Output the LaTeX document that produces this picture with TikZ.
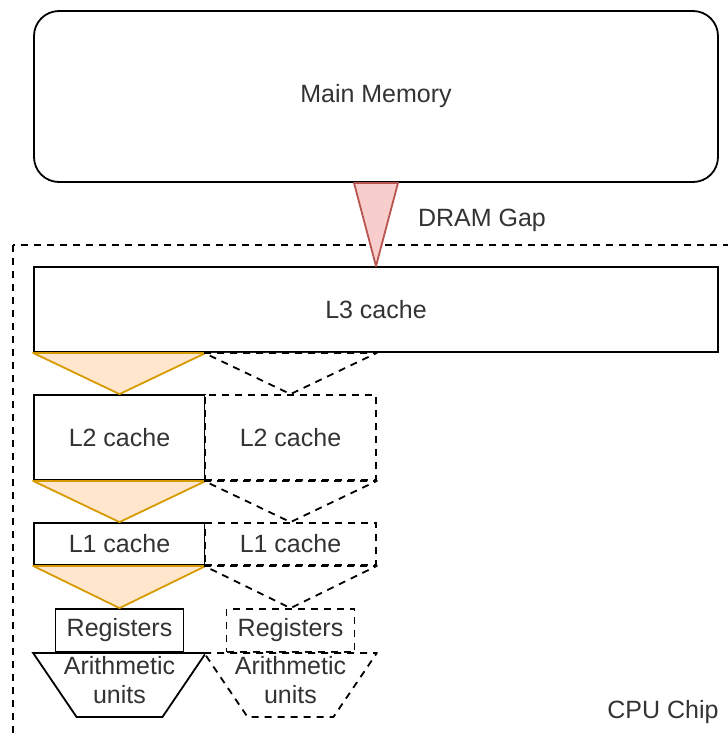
\documentclass[tikz,border=0pt]{standalone}
\usepackage{fontspec}
\setmainfont{Liberation Sans}
\usetikzlibrary{calc}

\definecolor{feedline}{HTML}{D79B00}
\definecolor{feedfill}{HTML}{FFE6CC}
\definecolor{gapline}{HTML}{B85450}
\definecolor{gapfill}{HTML}{F8CECC}

\begin{document}
\begin{tikzpicture}[x=1pt, y=-1pt, line width=1.8pt,
	every node/.style={text=black!80, font=\fontsize{25}{29}\selectfont},
	box/.style={draw, fill=white, inner sep=0pt},
	ghost/.style={box, dash pattern=on 7pt off 6pt},
	feed/.style={draw=feedline, fill=feedfill, line join=round},
	ghostfeed/.style={draw, fill=white, dash pattern=on 7pt off 6pt, line join=round},
	gap/.style={draw=gapline, fill=gapfill, line join=round}]
	\useasboundingbox (0,0) rectangle (728,734);
	\clip (0,0) rectangle (728,734);

	% chip outline runs off the page
	\draw[dash pattern=on 7pt off 6pt] (13,245) rectangle (760,760);

	\node[box, rounded corners=25pt, minimum width=684pt, minimum height=171pt] at (376,96.5) (mem) {Main Memory};
	\node[box, minimum width=684pt, minimum height=85pt] at (376,309.5) (L3) {L3 cache};
	\draw[gap] ($(mem.south)+(-22,0)$) -- ($(mem.south)+(22,0)$) -- (L3.north) -- cycle;

	\node[box, minimum width=171pt, minimum height=85pt] at (119.5,437.5) (L2a) {L2 cache};
	\node[ghost, minimum width=171pt, minimum height=85pt] at (290.5,437.5) (L2b) {L2 cache};
	\node[box, minimum width=171pt, minimum height=42pt] at (119.5,544) (L1a) {L1 cache};
	\node[ghost, minimum width=171pt, minimum height=42pt] at (290.5,544) (L1b) {L1 cache};
	\node[box, minimum width=128pt, minimum height=43pt] at (119.5,630.5) (regA) {Registers};
	\node[ghost, minimum width=128pt, minimum height=43pt] at (290.5,630.5) (regB) {Registers};

	% arithmetic units
	\draw[fill=white] (L2a.west |- regA.south) -- (L2a.east |- regA.south)
		-- ($(regA.south)+(43,64)$) -- ($(regA.south)+(-43,64)$) -- cycle;
	\draw[ghostfeed] (L2b.west |- regB.south) -- (L2b.east |- regB.south)
		-- ($(regB.south)+(43,64)$) -- ($(regB.south)+(-43,64)$) -- cycle;
	\node[align=center] at (119.5,680) (aluA) {Arithmetic\\units};
	\node[align=center] at (290.5,680) (aluB) {Arithmetic\\units};

	% data paths between the levels
	\foreach \up/\dn in {L3/L2a, L2a/L1a, L1a/regA}
		\draw[feed] (L2a.west |- \up.south) -- (L2a.east |- \up.south) -- (\dn.north) -- cycle;
	\foreach \up/\dn in {L3/L2b, L2b/L1b, L1b/regB}
		\draw[ghostfeed] (L2b.west |- \up.south) -- (L2b.east |- \up.south) -- (\dn.north) -- cycle;

	\node at (482,220) (gaplabel) {DRAM Gap};
	\node at (663,712) (chiplabel) {CPU Chip};
\end{tikzpicture}
\end{document}
